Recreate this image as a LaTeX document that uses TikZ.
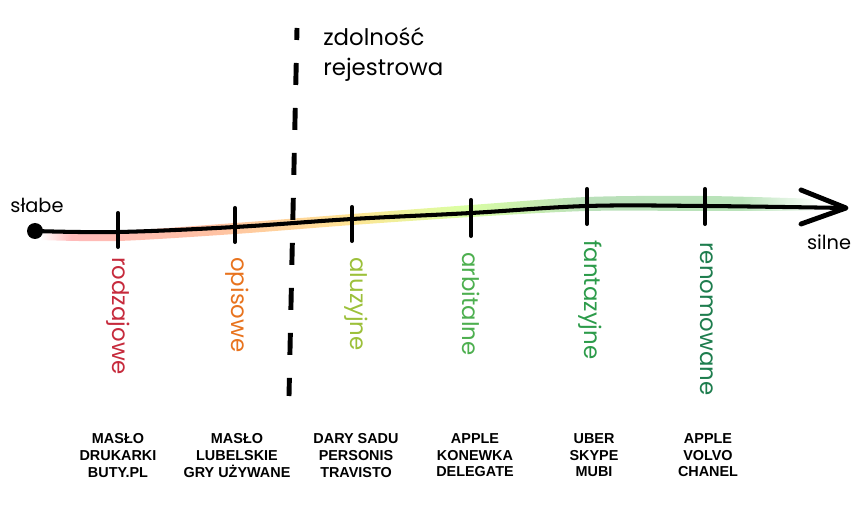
\documentclass[tikz,border=0pt]{standalone}
\usepackage{fontspec}
\setmainfont{Liberation Sans}
\newfontfamily\hand{Poppins}
\usepackage{tikz}
\usetikzlibrary{arrows, shapes, positioning, calc}

\definecolor{cRodz}{HTML}{C62A3C}
\definecolor{cOpis}{HTML}{E8731E}
\definecolor{cAluz}{HTML}{9CC03A}
\definecolor{cArb}{HTML}{4DAF4F}
\definecolor{cFant}{HTML}{2C9B4A}
\definecolor{cRen}{HTML}{1E7D4E}

\pgfdeclarehorizontalshading{glow}{100bp}{color(0bp)=(white); color(25bp)=(white);
  color(27bp)=(red!45); color(36bp)=(red!35!orange!60); color(45bp)=(orange!50!yellow!70);
  color(52bp)=(yellow!60!green!60); color(60bp)=(green!55!black!45); color(70bp)=(green!60!black!45);
  color(75bp)=(white); color(100bp)=(white)}

\begin{document}
\begin{tikzpicture}[x=0.02cm, y=-0.02cm,
    kind/.style={font=\hand\fontsize{13}{15}\selectfont, rotate=-90, anchor=west, inner sep=0pt},
    brands/.style={font=\bfseries\fontsize{8.2}{9.6}\selectfont, align=center, anchor=north, inner sep=0pt},
    tickmark/.style={line width=2.3pt, line cap=round},
    endlabel/.style={font=\hand\fontsize{11}{13}\selectfont, inner sep=0pt}]
    \useasboundingbox (0,0) rectangle (861,516);

    % Define the points on the axis for easier reference
    \coordinate (p0) at (35,231);
    \coordinate (t1) at (118,232);
    \coordinate (t2) at (235,227);
    \coordinate (t3) at (352,219);
    \coordinate (t4) at (471,213);
    \coordinate (t5) at (587,206);
    \coordinate (t6) at (705,206);
    \coordinate (tip) at (846,208);

    % Coloured glow under the axis
    \shade[shading=glow, opacity=.6] plot[smooth] coordinates {(40,230) (118,231) (235,223) (352,214) (471,205) (587,197) (705,196) (820,199)}
        -- plot[smooth] coordinates {(820,211) (705,211) (587,211) (471,217) (352,225) (235,234) (118,241) (40,240)} -- cycle;

    % Draw the axis and its arrowhead
    \draw[line width=2.3pt, line cap=round] plot[smooth, tension=0.6] coordinates {(p0) (t1) (t2) (t3) (t4) (t5) (t6) (tip)};
    \draw[line width=2.8pt, line cap=round, line join=round] (801,190) -- (tip) -- (801,224);
    \node[circle, fill, inner sep=0pt, minimum size=0.32cm] (dot) at (p0) {};

    % Tick marks
    \draw[tickmark] ($(t1)+(0,-19)$) -- ($(t1)+(0,15)$);
    \draw[tickmark] ($(t2)+(0,-19)$) -- ($(t2)+(0,15)$);
    \draw[tickmark] ($(t3)+(0,-12)$) -- ($(t3)+(0,22)$);
    \draw[tickmark] ($(t4)+(0,-13)$) -- ($(t4)+(0,23)$);
    \draw[tickmark] ($(t5)+(0,-17)$) -- ($(t5)+(0,18)$);
    \draw[tickmark] ($(t6)+(0,-17)$) -- ($(t6)+(0,18)$);

    % The dashed border line
    \draw[line width=2.8pt, dash pattern=on 0.44cm off 0.46cm, dash phase=0.2cm] (297,28) -- (289,396);
    \node[anchor=west, font=\hand\fontsize{13}{15}\selectfont, inner sep=0pt] (zdol) at (323,37) {zdolność};
    \node[anchor=west, font=\hand\fontsize{13}{15}\selectfont, inner sep=0pt] (rej) at (323,70) {rejestrowa};

    % End labels
    \node[endlabel] (slabe) at (37,205) {słabe};
    \node[endlabel] (silne) at (829,242) {silne};

    % Kinds of marks
    \node[kind, text=cRodz] (rodz) at (118,257) {rodzajowe};
    \node[kind, text=cOpis] (opis) at (237,257) {opisowe};
    \node[kind, text=cAluz] (aluz) at (356,257) {aluzyjne};
    \node[kind, text=cArb] (arb) at (471,252) {arbitalne};
    \node[kind, text=cFant] (fant) at (590,240) {fantazyjne};
    \node[kind, text=cRen] (ren) at (707,242) {renomowane};

    % Examples
    \node[brands] (ex1) at (118,433) {MASŁO\\DRUKARKI\\BUTY.PL};
    \node[brands] (ex2) at (237,433) {MASŁO\\LUBELSKIE\\GRY UŻYWANE};
    \node[brands] (ex3) at (356,433) {DARY SADU\\PERSONIS\\TRAVISTO};
    \node[brands] (ex4) at (475,433) {APPLE\\KONEWKA\\DELEGATE};
    \node[brands] (ex5) at (594,433) {UBER\\SKYPE\\MUBI};
    \node[brands] (ex6) at (708,433) {APPLE\\VOLVO\\CHANEL};
\end{tikzpicture}
\end{document}
